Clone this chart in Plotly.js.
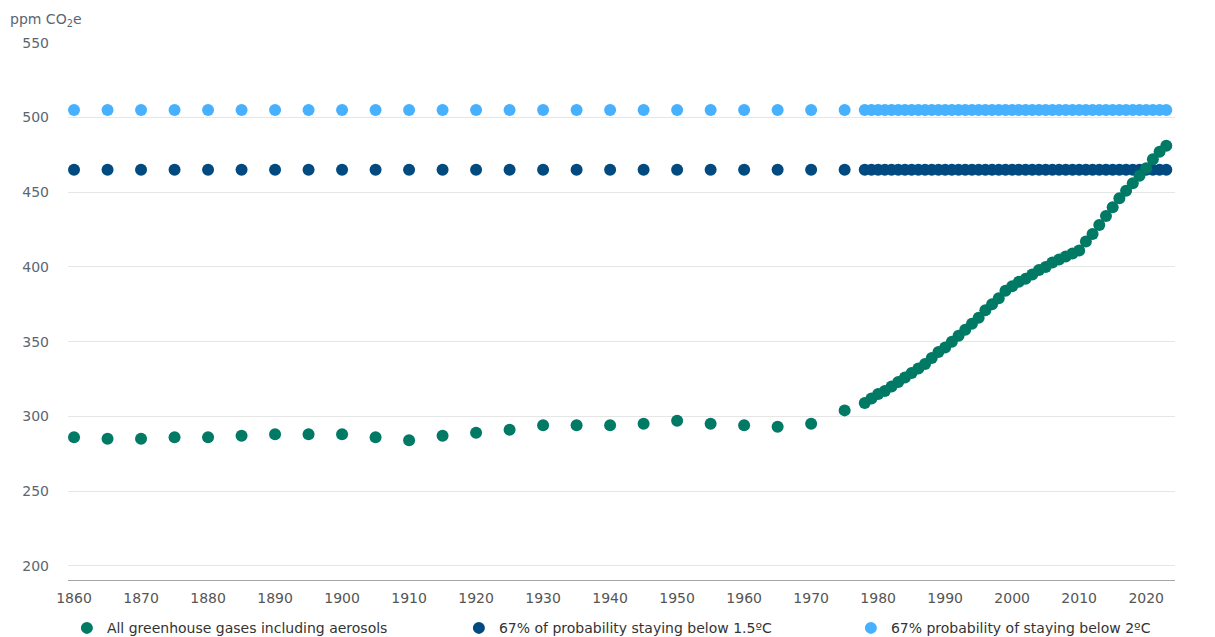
<!DOCTYPE html>
<html>
<head>
<meta charset="utf-8">
<script src="https://cdn.plot.ly/plotly-3.0.1.min.js"></script>
<style>
  html, body { margin: 0; padding: 0; background: #fff; }
  #plot { width: 1215px; height: 637px; }
</style>
</head>
<body>
<div id="plot"></div>
<script>
/*
Greenhouse gas concentration vs 1.5ºC / 2ºC limits
*/

// years: every 5 years to 1975, then yearly from 1978
var years = [
  1860, 1865, 1870, 1875, 1880, 1885, 1890, 1895, 1900, 1905, 1910, 1915,
  1920, 1925, 1930, 1935, 1940, 1945, 1950, 1955, 1960, 1965, 1970, 1975,
  1978, 1979, 1980, 1981, 1982, 1983, 1984, 1985, 1986, 1987, 1988, 1989,
  1990, 1991, 1992, 1993, 1994, 1995, 1996, 1997, 1998, 1999, 2000, 2001,
  2002, 2003, 2004, 2005, 2006, 2007, 2008, 2009, 2010, 2011, 2012, 2013,
  2014, 2015, 2016, 2017, 2018, 2019, 2020, 2021, 2022, 2023
];

// ppm CO2e, all greenhouse gases including aerosols
var allGases = [
  286, 285, 285, 286, 286, 287, 288, 288, 288, 286, 284, 287,
  289, 291, 294, 294, 294, 295, 297, 295, 294, 293, 295, 304,
  309, 312, 315, 317, 320, 323, 326, 329, 332, 335, 339, 343,
  346, 350, 354, 358, 362, 366, 371, 375, 379, 384, 387, 390,
  392, 395, 398, 400, 403, 405, 407, 409, 411, 417, 422, 428,
  434, 440, 446, 451, 456, 461, 466, 472, 477, 481
];

// thresholds (ppm CO2e)
var limit15 = 465;
var limit2 = 505;

var xTicks = [1860, 1870, 1880, 1890, 1900, 1910, 1920, 1930, 1940, 1950,
  1960, 1970, 1980, 1990, 2000, 2010, 2020];
var yTicks = [200, 250, 300, 350, 400, 450, 500, 550];

var names = [
  "All greenhouse gases including aerosols",
  "67% of probability staying below 1.5ºC",
  "67% probability of staying below 2ºC"
];
var colors = ['#007a64', '#004a80', '#47b1ff'];

var trace2 =
{
  x: years,
  y: years.map(function () { return limit2; }),
  type: "scatter",
  mode: "markers",
  name: names[2],
  legendrank: 3,
  marker: { color: colors[2], size: 12 }
};

var trace15 =
{
  x: years,
  y: years.map(function () { return limit15; }),
  type: "scatter",
  mode: "markers",
  name: names[1],
  legendrank: 2,
  marker: { color: colors[1], size: 12 }
};

var traceAll =
{
  x: years,
  y: allGases,
  type: "scatter",
  mode: "markers",
  name: names[0],
  legendrank: 1,
  marker: { color: colors[0], size: 12 }
};

var data = [trace2, trace15, traceAll];

var layout =
{
  width: 1215,
  height: 637,
  margin: { l: 68, r: 40, t: 42, b: 57, autoexpand: false },
  paper_bgcolor: '#ffffff',
  plot_bgcolor: '#ffffff',
  font: { family: "DejaVu Sans, sans-serif", size: 14, color: '#555555' },
  showlegend: true,
  legend:
  {
    orientation: 'h',
    x: -0.001,
    xanchor: 'left',
    y: -0.06,
    yanchor: 'top',
    entrywidth: 347,
    font: { size: 14, color: '#333333' },
    bgcolor: 'rgba(0,0,0,0)'
  },
  xaxis:
  {
    range: [1859.1, 2024.3],
    tickvals: xTicks,
    ticktext: xTicks.map(String),
    showgrid: false,
    zeroline: false,
    showline: true,
    linecolor: '#a6a6a6',
    linewidth: 1,
    ticks: '',
    ticklabelstandoff: 5,
    tickfont: { color: '#555555' }
  },
  yaxis:
  {
    range: [190.5, 550.5],
    tickvals: yTicks,
    showgrid: true,
    gridcolor: '#e6e6e6',
    gridwidth: 1,
    zeroline: false,
    showline: false,
    ticks: '',
    ticklabelstandoff: 18,
    tickfont: { color: '#5a6672' }
  },
  annotations: [
    {
      text: 'ppm CO<sub>2</sub>e',
      xref: 'paper',
      yref: 'paper',
      x: -0.054,
      xanchor: 'left',
      y: 1.04,
      yanchor: 'middle',
      showarrow: false,
      font: { size: 14, color: '#5a6672' }
    }
  ]
};

Plotly.newPlot("plot", data, layout, { displayModeBar: false, staticPlot: true });
</script>
</body>
</html>
